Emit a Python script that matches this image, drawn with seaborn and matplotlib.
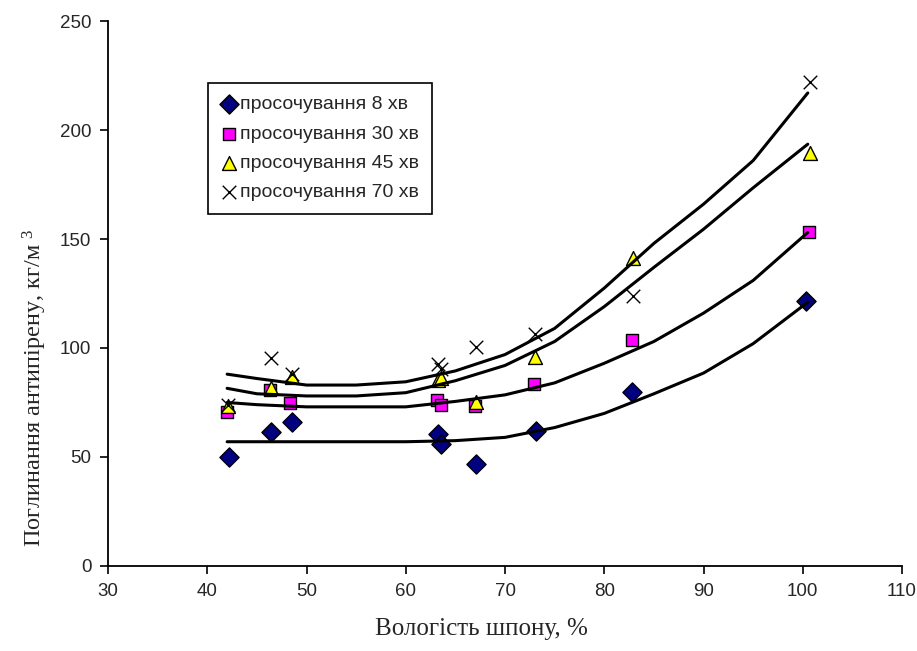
import seaborn as sns
import matplotlib.pyplot as plt
import pandas as pd

# measured points (moisture %, absorption kg/m3)
x8 = [42.2, 46.4, 48.5, 63.2, 63.5, 67.1, 73.1, 82.8, 100.3]
y8 = [50.0, 61.5, 66.0, 60.5, 56.0, 47.0, 62.0, 80.0, 121.5]

x30 = [42.0, 46.3, 48.3, 63.1, 63.5, 67.0, 72.9, 82.8, 100.6]
y30 = [70.5, 80.7, 74.6, 76.1, 73.9, 73.4, 83.5, 103.8, 153.1]

x45 = [42.1, 46.4, 48.5, 63.2, 63.5, 67.1, 73.0, 82.9, 100.7]
y45 = [73.5, 81.8, 86.8, 85.3, 86.1, 75.4, 96.0, 141.1, 189.3]

x70 = [42.1, 46.4, 48.5, 63.2, 63.5, 67.1, 73.0, 82.9, 100.7]
y70 = [73.9, 95.6, 87.9, 92.5, 90.2, 100.6, 106.4, 124.0, 222.2]

# trend lines
xc = [42, 45, 50, 55, 60, 65, 70, 75, 80, 85, 90, 95, 100.5]
c8 = [57, 57, 57, 57, 57, 57.5, 59, 63.5, 70, 79, 88.5, 102, 121]
c30 = [75, 74, 73, 73, 73, 75.5, 78.5, 84, 93, 103, 116, 131, 153]
c45 = [81.5, 79, 78, 78, 79.5, 85, 92, 103, 119, 137, 154.5, 173.5, 193.5]
c70 = [88, 86, 83, 83, 84.5, 89.5, 97, 109, 127.5, 148, 166, 186, 217]

labels = ["просочування 8 хв", "просочування 30 хв",
          "просочування 45 хв", "просочування 70 хв"]

sns.set_style("ticks")
plt.rcParams['font.family'] = ['Liberation Sans', 'DejaVu Sans']
plt.rcParams['mathtext.fontset'] = 'custom'
plt.rcParams['mathtext.rm'] = 'Liberation Serif'
plt.rcParams['mathtext.it'] = 'Liberation Serif'

fig = plt.figure(figsize=(9.17, 6.51), dpi=100)
ax = fig.add_axes([0.1178, 0.1306, 0.8659, 0.8371])

series = [
    (x8, y8, c8, "D", "#000080", "black", 95),
    (x30, y30, c30, "s", "#FF00FF", "black", 72),
    (x45, y45, c45, "^", "#FFFF00", "black", 100),
    (x70, y70, c70, "x", "black", None, 95),
]

for (xs, ys, cs, mk, fc, ec, sz), lab in zip(series, labels):
    df = pd.DataFrame({"x": xs, "y": ys})
    if ec is None:
        sns.scatterplot(data=df, x="x", y="y", marker=mk, color=fc, s=sz,
                        linewidth=1.0, ax=ax, label=lab, zorder=3)
    else:
        sns.scatterplot(data=df, x="x", y="y", marker=mk, color=fc, s=sz,
                        edgecolor=ec, linewidth=1.0, ax=ax, label=lab, zorder=3)

for (xs, ys, cs, mk, fc, ec, sz) in series:
    dc = pd.DataFrame({"x": xc, "y": cs})
    sns.lineplot(data=dc, x="x", y="y", color="black", linewidth=2.2,
                 ax=ax, zorder=4, legend=False)

ax.set_xlim(30, 110)
ax.set_ylim(0, 250)
ax.set_xticks(range(30, 111, 10))
ax.set_yticks(range(0, 251, 50))
ax.tick_params(labelsize=13.5, length=6, width=1.2, color="black", pad=6)
for s in ["top", "right"]:
    ax.spines[s].set_visible(False)
for s in ["left", "bottom"]:
    ax.spines[s].set_color("black")
    ax.spines[s].set_linewidth(1.3)

ax.set_xlabel("Вологість шпону, %", family="Liberation Serif", fontsize=18)
ax.xaxis.set_label_coords(0.47, -0.095)
ax.set_ylabel("Поглинання антипірену, кг/м $^3$", family="Liberation Serif",
              fontsize=17.5)
ax.yaxis.set_label_coords(-0.074, 0.327)

leg = ax.legend(loc="upper left", bbox_to_anchor=(0.126, 0.886), fontsize=14,
                frameon=True, fancybox=False, edgecolor="black", framealpha=1,
                labelspacing=0.6, handletextpad=0.1, handlelength=0.9,
                borderpad=0.65, borderaxespad=0)
leg.get_frame().set_linewidth(1.2)

fig.savefig("out.png", dpi=100)
